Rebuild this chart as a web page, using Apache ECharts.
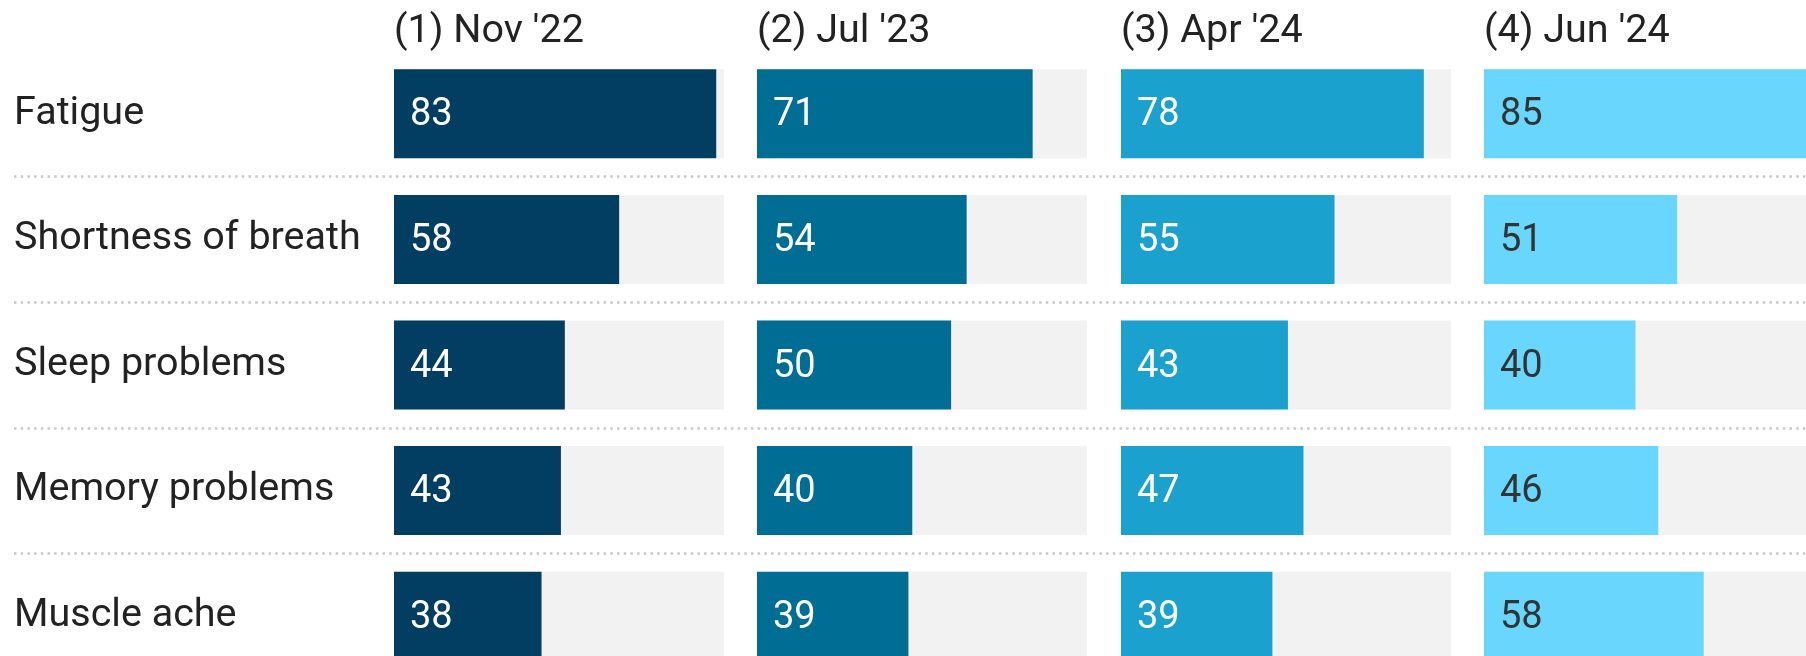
<!DOCTYPE html>
<html>
<head>
<meta charset="utf-8">
<script src="https://cdn.jsdelivr.net/npm/echarts@6/dist/echarts.min.js"></script>
<style>
  html, body { margin: 0; padding: 0; background: #fff; overflow: hidden; }
  /* taller than the window: the last row is cut off, as in the source */
  #chart { width: 1806px; height: 700px; }
</style>
</head>
<body>
<div id="chart"></div>
<script>
// symptoms (rows) and survey waves (panels)
const categories = ['Fatigue', 'Shortness of breath', 'Sleep problems', 'Memory problems', 'Muscle ache'];
const waves = ["(1) Nov '22", "(2) Jul '23", "(3) Apr '24", "(4) Jun '24"];
const nov22 = [83, 58, 44, 43, 38];
const jul23 = [71, 54, 50, 40, 39];
const apr24 = [78, 55, 43, 47, 39];
const jun24 = [85, 51, 40, 46, 58];

const values = [nov22, jul23, apr24, jun24];
const colors = ['#013e62', '#006d95', '#1ba1cd', '#69d6fd'];
const labelColors = ['#fff', '#fff', '#fff', '#333'];
const lefts = [394, 757, 1121, 1484];
const panelW = 330;
const gridTop = 51;
const gridH = 628;
const font = 'Roboto';

var myChart = echarts.init(document.getElementById('chart'));

let grids = [], xAxes = [], yAxes = [], series = [], titles = [];

values.forEach((data, i) => {
    grids.push({left: lefts[i], top: gridTop, width: panelW, height: gridH});
    xAxes.push({type: 'value', gridIndex: i, min: 0, max: 85, show: false});
    yAxes.push({
        type: 'category', gridIndex: i, data: categories, inverse: true,
        axisLine: {show: false}, axisTick: {show: false}, splitLine: {show: false},
        axisLabel: i === 0 ? {
            show: true, align: 'left', margin: lefts[0] - 14,
            padding: [5, 0, 0, 0],
            fontFamily: font, fontSize: 39.5, color: '#222'
        } : {show: false}
    });
    series.push({
        type: 'bar', xAxisIndex: i, yAxisIndex: i, data: data,
        barWidth: 89,
        showBackground: true,
        backgroundStyle: {color: '#f2f2f2'},
        itemStyle: {color: colors[i]},
        label: {
            show: true, position: 'insideLeft', distance: 16, offset: [0, 2],
            fontFamily: font, fontSize: 38, color: labelColors[i]
        },
        silent: true
    });
    titles.push({
        text: waves[i], left: lefts[i], top: 12, padding: 0,
        textStyle: {fontFamily: font, fontSize: 39.5, fontWeight: 'normal', color: '#222'}
    });
});

// full-width grid, only for the dotted row separators
grids.push({left: 14, right: -40, top: gridTop, height: gridH});
xAxes.push({type: 'value', gridIndex: 4, min: 0, max: 1, show: false});
yAxes.push({
    type: 'category', gridIndex: 4, data: categories, inverse: true,
    axisLine: {show: false}, axisTick: {show: false}, axisLabel: {show: false},
    splitLine: {
        show: true, showMinLine: false, showMaxLine: false,
        lineStyle: {color: '#c8c8c8', width: 2.5, type: [2.5, 4.2]}
    }
});

myChart.setOption({
    animation: false,
    title: titles,
    grid: grids,
    xAxis: xAxes,
    yAxis: yAxes,
    series: series
});
</script>
</body>
</html>
